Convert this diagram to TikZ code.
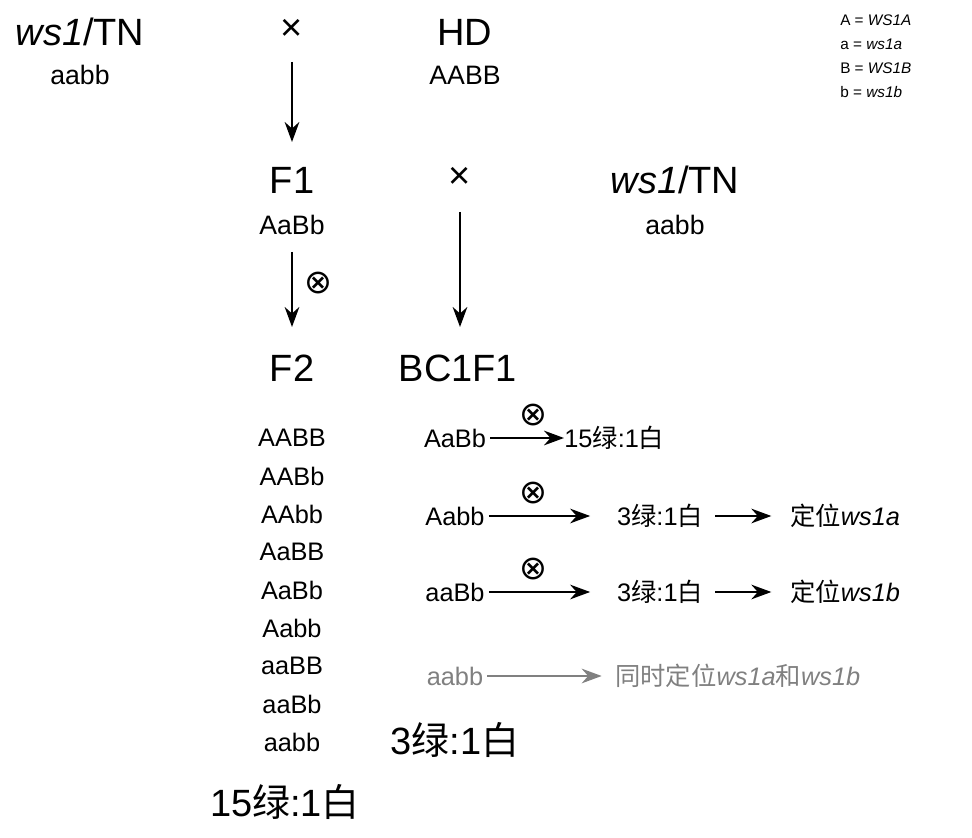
\documentclass[tikz,border=0pt]{standalone}
\usepackage{fontspec}
\setmainfont{Liberation Sans}
\newfontfamily\cjk{Noto Sans CJK SC}
\newfontfamily\sym{DejaVu Sans}
\usetikzlibrary{arrows.meta}
\newcommand{\lv}{{\cjk 绿}}
\newcommand{\bai}{{\cjk 白}}
\newcommand{\dw}{{\cjk 定位}}
\begin{document}
\begin{tikzpicture}[x=0.75pt,y=-0.75pt,
  big/.style={font=\fontsize{28.5}{30}\selectfont},
  med/.style={font=\fontsize{20}{24}\selectfont},
  gen/.style={font=\fontsize{19}{22}\selectfont},
  sg/.style={font=\fontsize{25}{28}\selectfont\sym},
  leg/.style={font=\fontsize{11.5}{13}\selectfont, anchor=west},
  arr/.style={-{Stealth[length=15pt,width=11pt]}, line width=1.5pt},
  garr/.style={arr, draw=gray},
  inner sep=0pt]
\useasboundingbox (0,0) rectangle (972,838);
\node[big] (p1) at (80,32) {\textit{ws1}/TN};
\node[med] (p1g) at (80,75) {aabb};
\node[big] (x1) at (292,30) {×};
\node[big] (p2) at (465,32) {HD};
\node[med] (p2g) at (465,75) {AABB};
\coordinate (a1s) at (292,62); \coordinate (a1e) at (292,142);
\draw[arr] (a1s) -- (a1e);
\node[big] (f1) at (292,180) {F1};
\node[med] (f1g) at (292,225) {AaBb};
\node[big] (x2) at (460,178) {×};
\node[big] (p3) at (675,180) {\textit{ws1}/TN};
\node[med] (p3g) at (675,225) {aabb};
\coordinate (a2s) at (292,252); \coordinate (a2e) at (292,327);
\draw[arr] (a2s) -- (a2e);
\node[sg] (s1) at (318,283) {⊗};
\coordinate (a3s) at (460,212); \coordinate (a3e) at (460,327);
\draw[arr] (a3s) -- (a3e);
\node[big] (f2) at (292,368) {F2};
\node[big] (bc) at (458,368) {BC1F1};
\foreach \g [count=\i] in {AABB,AABb,AAbb,AaBB,AaBb,Aabb,aaBB,aaBb,aabb}
  \node[gen] (g\i) at (292,400+38*\i) {\g};
\node[big] (r1) at (285,802) {15\lv:1\bai};
% BC rows
\node[gen] (b1) at (455,438) {AaBb};
\node[gen, anchor=west] (b1r) at (564,438) {15\lv:1\bai};
\draw[arr] (b1.east) ++(4,0) coordinate (b1a) (b1a) -- (b1r.west);
\node[sg] (s2) at (533,415) {⊗};
\node[gen] (b2) at (455,516) {Aabb};
\node[gen] (b2r) at (660,516) {3\lv:1\bai};
\node[gen, anchor=west] (b2m) at (790,516) {\dw\textit{ws1a}};
\draw[arr] (b2.east) ++(4,0) coordinate (b2a) (b2a) -- ([xshift=-20pt]b2r.west);
\draw[arr] (b2r.east) ++(12,0) coordinate (b2b) (b2b) -- ([xshift=-14pt]b2m.west);
\node[sg] (s3) at (533,493) {⊗};
\node[gen] (b3) at (455,592) {aaBb};
\node[gen] (b3r) at (660,592) {3\lv:1\bai};
\node[gen, anchor=west] (b3m) at (790,592) {\dw\textit{ws1b}};
\draw[arr] (b3.east) ++(4,0) coordinate (b3a) (b3a) -- ([xshift=-20pt]b3r.west);
\draw[arr] (b3r.east) ++(12,0) coordinate (b3b) (b3b) -- ([xshift=-14pt]b3m.west);
\node[sg] (s4) at (533,569) {⊗};
\node[gen, text=gray] (b4) at (455,676) {aabb};
\node[gen, text=gray, anchor=west] (b4m) at (615,676) {{\cjk 同时定位}\textit{ws1a}{\cjk 和}\textit{ws1b}};
\draw[garr] (b4.east) ++(4,0) coordinate (b4a) (b4a) -- ([xshift=-10pt]b4m.west);
\node[big] (r2) at (455,740) {3\lv:1\bai};
% legend
\node[leg] (l1) at (840,20) {A = \textit{WS1A}};
\node[leg] (l2) at (840,44) {a = \textit{ws1a}};
\node[leg] (l3) at (840,68) {B = \textit{WS1B}};
\node[leg] (l4) at (840,92) {b = \textit{ws1b}};
\end{tikzpicture}
\end{document}
